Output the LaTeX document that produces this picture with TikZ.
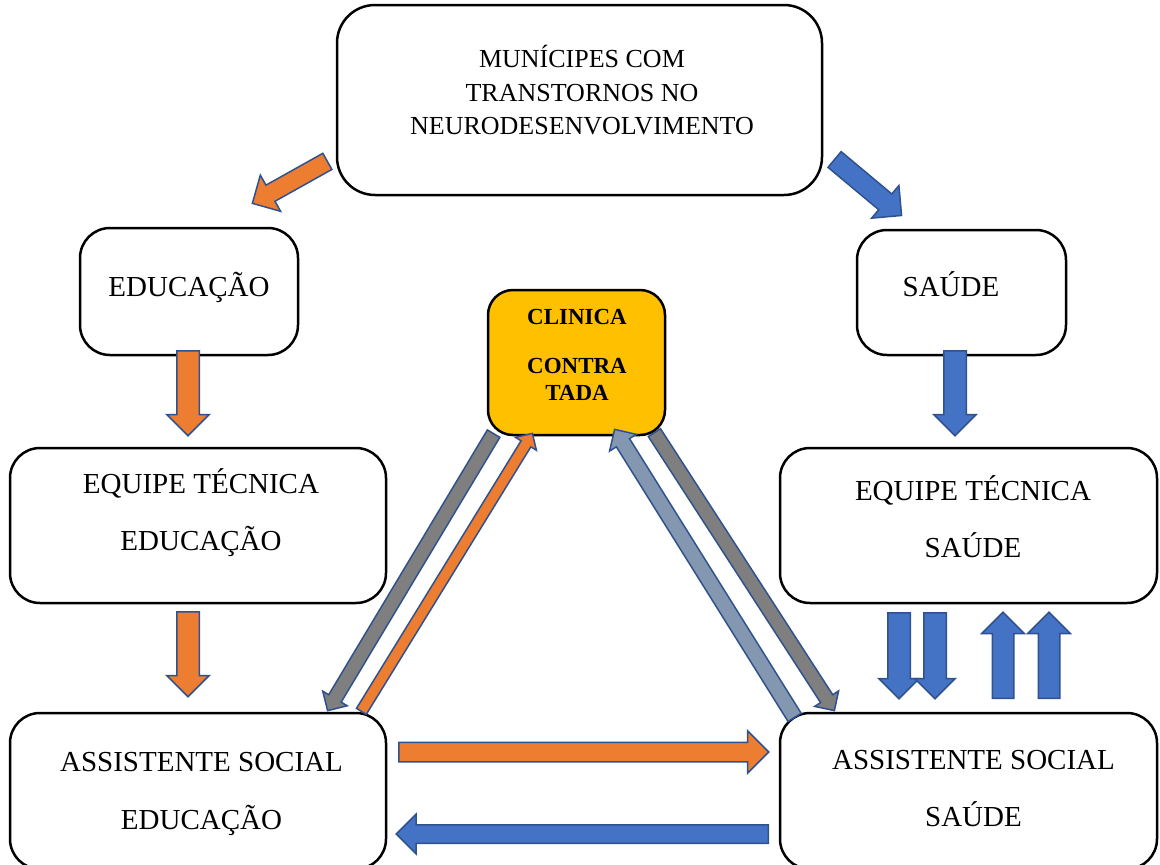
\documentclass[tikz,border=0pt]{standalone}
\usepackage{fontspec}
\setmainfont{Liberation Serif}
\usetikzlibrary{shapes.arrows,calc}

\definecolor{arrorange}{HTML}{ED7D31}
\definecolor{arrblue}{HTML}{4472C4}
\definecolor{arrline}{HTML}{2F528F}
\definecolor{arrgray}{HTML}{7F7F7F}
\definecolor{arrsteel}{HTML}{8497B0}
\definecolor{clinyellow}{HTML}{FFC000}

% block arrow from tail (#3) to tip (#4)
\newcommand{\blockarrow}[4]{%
  \path let \p1=($(#4)-(#3)$), \n1={veclen(\x1,\y1)}, \n2={atan2(\y1,\x1)} in
    node (#1) [#2, minimum height=\n1, rotate=\n2, anchor=tail] at (#3) {};}

\begin{document}
\begin{tikzpicture}[x=1pt,y=-1pt,
  box/.style={draw,line width=2.5pt,rounded corners=30pt,inner sep=0pt},
  txt/.style={align=center,anchor=base,inner sep=0pt,font=\fontsize{29}{35}\selectfont},
  barr/.style n args={3}{single arrow,draw=arrline,line width=1.5pt,fill=#1,
    inner xsep=0pt,inner ysep=#2/2,minimum width=0pt,single arrow head extend={(#3-#2)/2}}]
\useasboundingbox (0,0) rectangle (1160,865);
\clip (0,0) rectangle (1160,865);

\node[box,rounded corners=38pt,minimum width=485,minimum height=190] (top) at (579.5,100) {};
\node[box,minimum width=218,minimum height=127] (edu) at (189,291.5) {};
\node[box,minimum width=209,minimum height=125] (sau) at (961.5,292.5) {};
\node[box,rounded corners=25pt,fill=clinyellow,minimum width=177,minimum height=145] (clin) at (576.5,362.5) {};
\node[box,minimum width=376,minimum height=155] (eqEdu) at (198,525.5) {};
\node[box,minimum width=377,minimum height=155] (eqSau) at (968.5,525.5) {};
\node[box,minimum width=376,minimum height=156] (asEdu) at (198,791) {};
\node[box,minimum width=377,minimum height=156] (asSau) at (968.5,791) {};

% text, anchored at the baseline of the last line
\node[txt,font=\fontsize{26}{33.5}\selectfont] (topTxt) at (582,134.6) {MUNÍCIPES COM\\TRANSTORNOS NO\\NEURODESENVOLVIMENTO};
\node[txt] (eduTxt) at (189,296.6) {EDUCAÇÃO};
\node[txt] (sauTxt) at (951,296.6) {SAÚDE};
\node[txt,font=\fontsize{23}{27}\selectfont\bfseries] (clinTxt) at (577,400.8) {CLINICA\\[22pt]CONTRA\\TADA};
\node[txt] (eqEduTxt) at (201,550.6) {EQUIPE TÉCNICA\\[22pt]EDUCAÇÃO};
\node[txt] (eqSauTxt) at (973,557.6) {EQUIPE TÉCNICA\\[22pt]SAÚDE};
\node[txt] (asEduTxt) at (201.5,829.6) {ASSISTENTE SOCIAL\\[23pt]EDUCAÇÃO};
\node[txt] (asSauTxt) at (973.5,826.6) {ASSISTENTE SOCIAL\\[22pt]SAÚDE};

\blockarrow{eduIn}{barr={arrorange}{17}{40}}{328,161}{253,203}
\blockarrow{sauIn}{barr={arrblue}{19}{41}}{834,159}{901,215}
\blockarrow{eduDown}{barr={arrorange}{21}{41}}{188,350}{188,435}
\blockarrow{sauDown}{barr={arrblue}{21}{41}}{955,350}{955,435}
\blockarrow{eduLow}{barr={arrorange}{21}{41}}{188,611}{188,696}
\blockarrow{sauLowA}{barr={arrblue}{21}{39}}{899,612}{899,698}
\blockarrow{sauLowB}{barr={arrblue}{21}{39}}{935,612}{935,698}
\blockarrow{sauUpA}{barr={arrblue}{20}{41}}{1003,699}{1003,613}
\blockarrow{sauUpB}{barr={arrblue}{20}{41}}{1049,699}{1049,613}
\blockarrow{socRight}{barr={arrorange}{18}{41}}{398,752}{768,752}
\blockarrow{socLeft}{barr={arrblue}{17}{38}}{769,834}{397,834}
\blockarrow{clinToEdu}{barr={arrgray}{13}{27}}{494,433}{328,710}
\blockarrow{eduToClin}{barr={arrorange}{10}{23}}{361,712}{532,434}
\blockarrow{sauToClin}{barr={arrsteel}{14}{30}}{795,718}{615,430}
\blockarrow{clinToSau}{barr={arrgray}{13}{27}}{654,432}{834,710}

\end{tikzpicture}
\end{document}
